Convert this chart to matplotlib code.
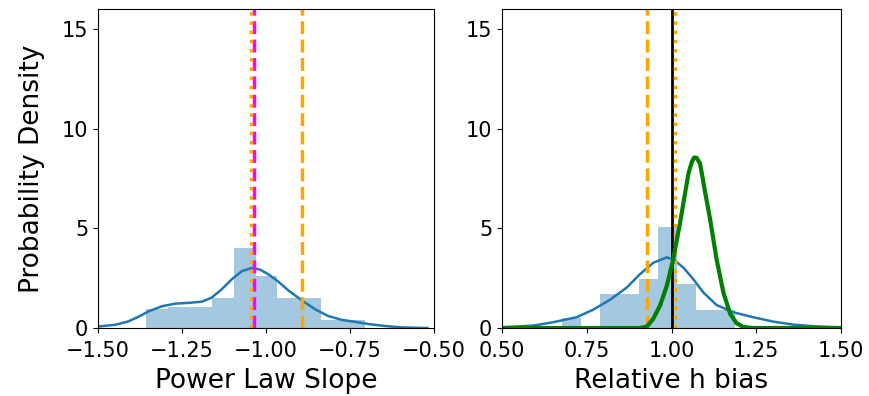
import matplotlib
matplotlib.use("Agg")
import matplotlib.pyplot as plt
import numpy as np

# ---- left panel: power law slope ----
slope_edges = [-1.357, -1.292, -1.227, -1.161, -1.096, -1.031, -0.966, -0.901, -0.835, -0.770, -0.705]
slope_hist = [0.95, 1.05, 1.05, 1.50, 4.03, 2.62, 1.50, 1.50, 0.42, 0.42]
slope_kde_x = [-1.509, -1.449, -1.41, -1.38, -1.35, -1.31, -1.271, -1.231, -1.191, -1.162, -1.132,
               -1.102, -1.072, -1.043, -1.018, -0.993, -0.963, -0.934, -0.894, -0.854, -0.815,
               -0.775, -0.735, -0.696, -0.646, -0.596, -0.547, -0.52]
slope_kde_y = [0.06, 0.16, 0.33, 0.56, 0.83, 1.09, 1.22, 1.26, 1.32, 1.52, 1.94,
               2.44, 2.85, 3.01, 2.93, 2.69, 2.32, 1.89, 1.39, 0.94, 0.60,
               0.41, 0.31, 0.20, 0.10, 0.03, 0.01, 0.0]
slope_dashed = -0.894
slope_dotted = -1.046
slope_true = -1.036

# ---- right panel: relative h bias ----
bias_edges = [0.676, 0.733, 0.789, 0.846, 0.903, 0.959, 1.016, 1.072, 1.129, 1.186]
bias_hist = [0.50, 0.0, 1.70, 1.70, 2.45, 5.05, 2.20, 0.88, 0.88]
bias_kde_x = [0.504, 0.592, 0.651, 0.720, 0.769, 0.819, 0.868, 0.907, 0.946, 0.986, 1.005,
              1.035, 1.064, 1.094, 1.133, 1.182, 1.241, 1.300, 1.359, 1.418, 1.497]
bias_kde_y = [0.04, 0.12, 0.29, 0.54, 0.92, 1.42, 2.03, 2.70, 3.27, 3.54, 3.44,
              3.03, 2.45, 1.78, 1.15, 0.79, 0.54, 0.32, 0.17, 0.09, 0.03]
fit_x = [0.5, 0.80, 0.907, 0.927, 0.946, 0.966, 0.986, 1.005, 1.025, 1.040, 1.050, 1.060,
         1.067, 1.074, 1.084, 1.091, 1.096, 1.114, 1.133, 1.153, 1.173, 1.192, 1.212, 1.24, 1.5]
fit_y = [0.0, 0.0, 0.0, 0.07, 0.46, 1.12, 2.11, 3.44, 5.26, 6.76, 7.75, 8.33,
         8.55, 8.53, 8.25, 7.6, 7.1, 5.43, 3.44, 1.78, 0.71, 0.24, 0.05, 0.0, 0.0]
bias_dashed = 0.927
bias_dotted = 1.01
bias_true = 1.0

hist_color = "#1f77b4"
fs_tick = 15
fs_label = 19

fig = plt.figure(figsize=(8.69, 3.96), dpi=100)
ax1 = fig.add_axes([0.1128, 0.1717, 0.3867, 0.806])
ax2 = fig.add_axes([0.5777, 0.1717, 0.3901, 0.806])

# left
w1 = np.diff(slope_edges)
ax1.bar(slope_edges[:-1], slope_hist, width=w1, align="edge", color=hist_color, alpha=0.4, linewidth=0)
ax1.plot(slope_kde_x, slope_kde_y, color=hist_color, lw=1.8)
ax1.axvline(slope_dashed, color="orange", ls="--", lw=2.5)
ax1.axvline(slope_true, color="magenta", ls="--", lw=2.5)
ax1.axvline(slope_dotted, color="orange", ls=":", lw=2.5)
ax1.set_xlim(-1.5, -0.5)
ax1.set_ylim(0, 16)
ax1.set_xticks([-1.5, -1.25, -1.0, -0.75, -0.5])
ax1.set_yticks([0, 5, 10, 15])
ax1.set_xlabel("Power Law Slope", fontsize=fs_label, labelpad=5)
ax1.set_ylabel("Probability Density", fontsize=fs_label, labelpad=12)

# right
w2 = np.diff(bias_edges)
ax2.bar(bias_edges[:-1], bias_hist, width=w2, align="edge", color=hist_color, alpha=0.4, linewidth=0)
ax2.plot(bias_kde_x, bias_kde_y, color=hist_color, lw=1.8)
ax2.axvline(bias_dashed, color="orange", ls="--", lw=2.5)
ax2.axvline(bias_true, color="black", lw=2)
ax2.axvline(bias_dotted, color="orange", ls=":", lw=2.5)
ax2.plot(fit_x, fit_y, color="green", lw=3)
ax2.set_xlim(0.5, 1.5)
ax2.set_ylim(0, 16)
ax2.set_xticks([0.5, 0.75, 1.0, 1.25, 1.5])
ax2.set_yticks([0, 5, 10, 15])
ax2.set_xlabel("Relative h bias", fontsize=fs_label, labelpad=5)

for ax in (ax1, ax2):
    ax.tick_params(labelsize=fs_tick)
    ax.tick_params(axis="x", pad=6)

fig.savefig("out.png", dpi=100)
